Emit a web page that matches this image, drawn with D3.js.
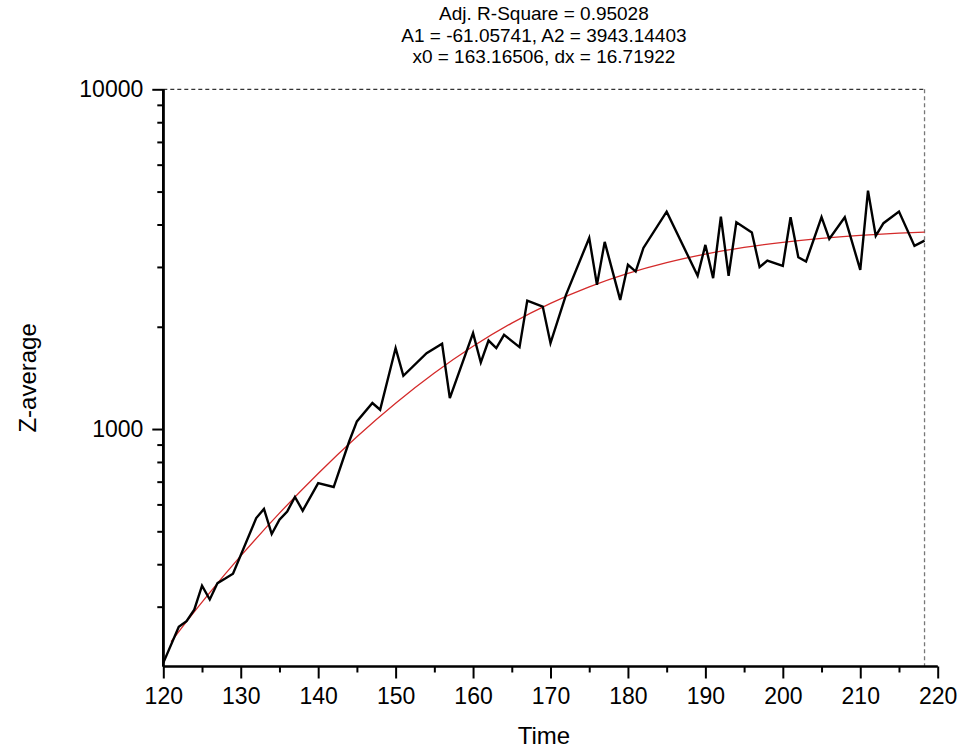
<!DOCTYPE html>
<html>
<head>
<meta charset="utf-8">
<script src="https://cdn.jsdelivr.net/npm/d3@7"></script>
<style>
  html, body { margin: 0; padding: 0; background: #fff; }
  svg { display: block; font-family: "Liberation Sans", Arial, sans-serif; }
</style>
</head>
<body>
<svg id="chart" width="961" height="751"></svg>
<script>
// ---- data ----
const times = [120,122,123,124,125,126,127,128,129,132,133,134,135,136,137,138,140,142,144,145,147,148,150,151,154,156,157,160,161,162,163,164,166,167,169,170,172,175,176,177,179,180,181,182,185,189,190,191,192,193,194,196,197,198,200,201,202,203,205,206,208,210,211,212,213,215,217,218.3];
const zavg  = [205,262,272,294,346,315,352,363,375,547,582,491,541,572,631,575,693,675,919,1053,1193,1140,1731,1435,1673,1782,1233,1916,1570,1822,1731,1894,1742,2389,2294,1790,2483,3652,2657,3555,2399,3043,2908,3412,4365,2825,3483,2780,4220,2825,4063,3787,2996,3133,3022,4203,3205,3112,4203,3628,4203,2941,5031,3703,4036,4365,3460,3587];
const fitTimes = [121,123,126,130,135,140,145,150,155,160,165,170,175,180,185,190,195,200,205,210,215,218.3];
const fitVals  = [236.5,271.2,330.1,423.1,565.5,740.2,949.1,1191.1,1461.6,1752.1,2050.8,2344.7,2621.5,2871.7,3089.6,3273.3,3424.0,3544.8,3640.0,3713.9,3770.6,3800.4];
const xMajorTicks = [120,130,140,150,160,170,180,190,200,210,220];
const xMinorTicks = [125,135,145,155,165,175,185,195,205,215];
const yMajorTicks = [1000,10000];
const yMinorTicks = [300,400,500,600,700,800,900,2000,3000,4000,5000,6000,7000,8000,9000];
const xDomain = [120,220];
const yDomain = [200,10000];
const frameEnd = 218.3;
const titleLines = ["Adj. R-Square = 0.95028", "A1 = -61.05741, A2 = 3943.14403", "x0 = 163.16506, dx = 16.71922"];
const xTitle = "Time";
const yTitle = "Z-average";

// ---- layout ----
const L = 163.3, R = 937.7, T = 89.3, B = 666.5;
const svg = d3.select("#chart");
const x = d3.scaleLinear().domain(xDomain).range([L, R]);
const y = d3.scaleLog().domain(yDomain).range([B, T]);

// frame (dashed top and right)
svg.append("line").attr("x1", L).attr("x2", x(frameEnd)).attr("y1", T).attr("y2", T)
  .attr("stroke", "#333").attr("stroke-width", 1.3).attr("stroke-dasharray", "4,3");
svg.append("line").attr("x1", x(frameEnd)).attr("x2", x(frameEnd)).attr("y1", T).attr("y2", B)
  .attr("stroke", "#777").attr("stroke-width", 1.3).attr("stroke-dasharray", "4,3");

// fit curve
const fitLine = d3.line().x((d, i) => x(fitTimes[i])).y(d => y(d)).curve(d3.curveMonotoneX);
svg.append("path").datum(fitVals).attr("d", fitLine)
  .attr("fill", "none").attr("stroke", "#d42a2a").attr("stroke-width", 1.3);

// data line
const dataLine = d3.line().x((d, i) => x(times[i])).y(d => y(d));
svg.append("path").datum(zavg).attr("d", dataLine)
  .attr("fill", "none").attr("stroke", "#000").attr("stroke-width", 2.4)
  .attr("stroke-linejoin", "miter");

// x axis
const gx = svg.append("g").attr("transform", `translate(0,${B})`);
gx.call(d3.axisBottom(x).tickValues(xMajorTicks).tickSize(12).tickPadding(9).tickFormat(d3.format("d")));
gx.append("g").call(d3.axisBottom(x).tickValues(xMinorTicks).tickSize(6).tickFormat(""));
gx.selectAll(".domain").attr("stroke", "#000").attr("stroke-width", 2.2)
  .attr("d", `M${L},0H${R}`);
gx.selectAll(".tick line").attr("stroke", "#000").attr("stroke-width", 2);
gx.selectAll("text").attr("font-size", 23).attr("fill", "#000")
  .style("font-family", "'Liberation Sans', Arial, sans-serif");

// y axis
const gy = svg.append("g").attr("transform", `translate(${L},0)`);
gy.call(d3.axisLeft(y).tickValues(yMajorTicks).tickSize(11).tickPadding(9).tickFormat(d3.format("d")));
gy.append("g").call(d3.axisLeft(y).tickValues(yMinorTicks).tickSize(6).tickFormat(""));
gy.selectAll(".domain").attr("stroke", "#000").attr("stroke-width", 2.6)
  .attr("d", `M0,${B}V${T}`);
gy.selectAll(".tick line").attr("stroke", "#000").attr("stroke-width", 2);
gy.selectAll("text").attr("font-size", 23).attr("fill", "#000")
  .style("font-family", "'Liberation Sans', Arial, sans-serif");

// titles
const tcx = (L + x(frameEnd)) / 2;
svg.append("g").selectAll("text").data(titleLines).join("text")
  .attr("x", tcx).attr("y", (d, i) => 20 + i * 21.5)
  .attr("text-anchor", "middle").attr("font-size", 19).attr("fill", "#000").text(d => d);

svg.append("text").attr("x", (L + x(frameEnd)) / 2).attr("y", 744)
  .attr("text-anchor", "middle").attr("font-size", 24).attr("fill", "#000").text(xTitle);
svg.append("text").attr("transform", `translate(36,${(T + B) / 2}) rotate(-90)`)
  .attr("text-anchor", "middle").attr("font-size", 24).attr("fill", "#000").text(yTitle);
</script>
</body>
</html>
